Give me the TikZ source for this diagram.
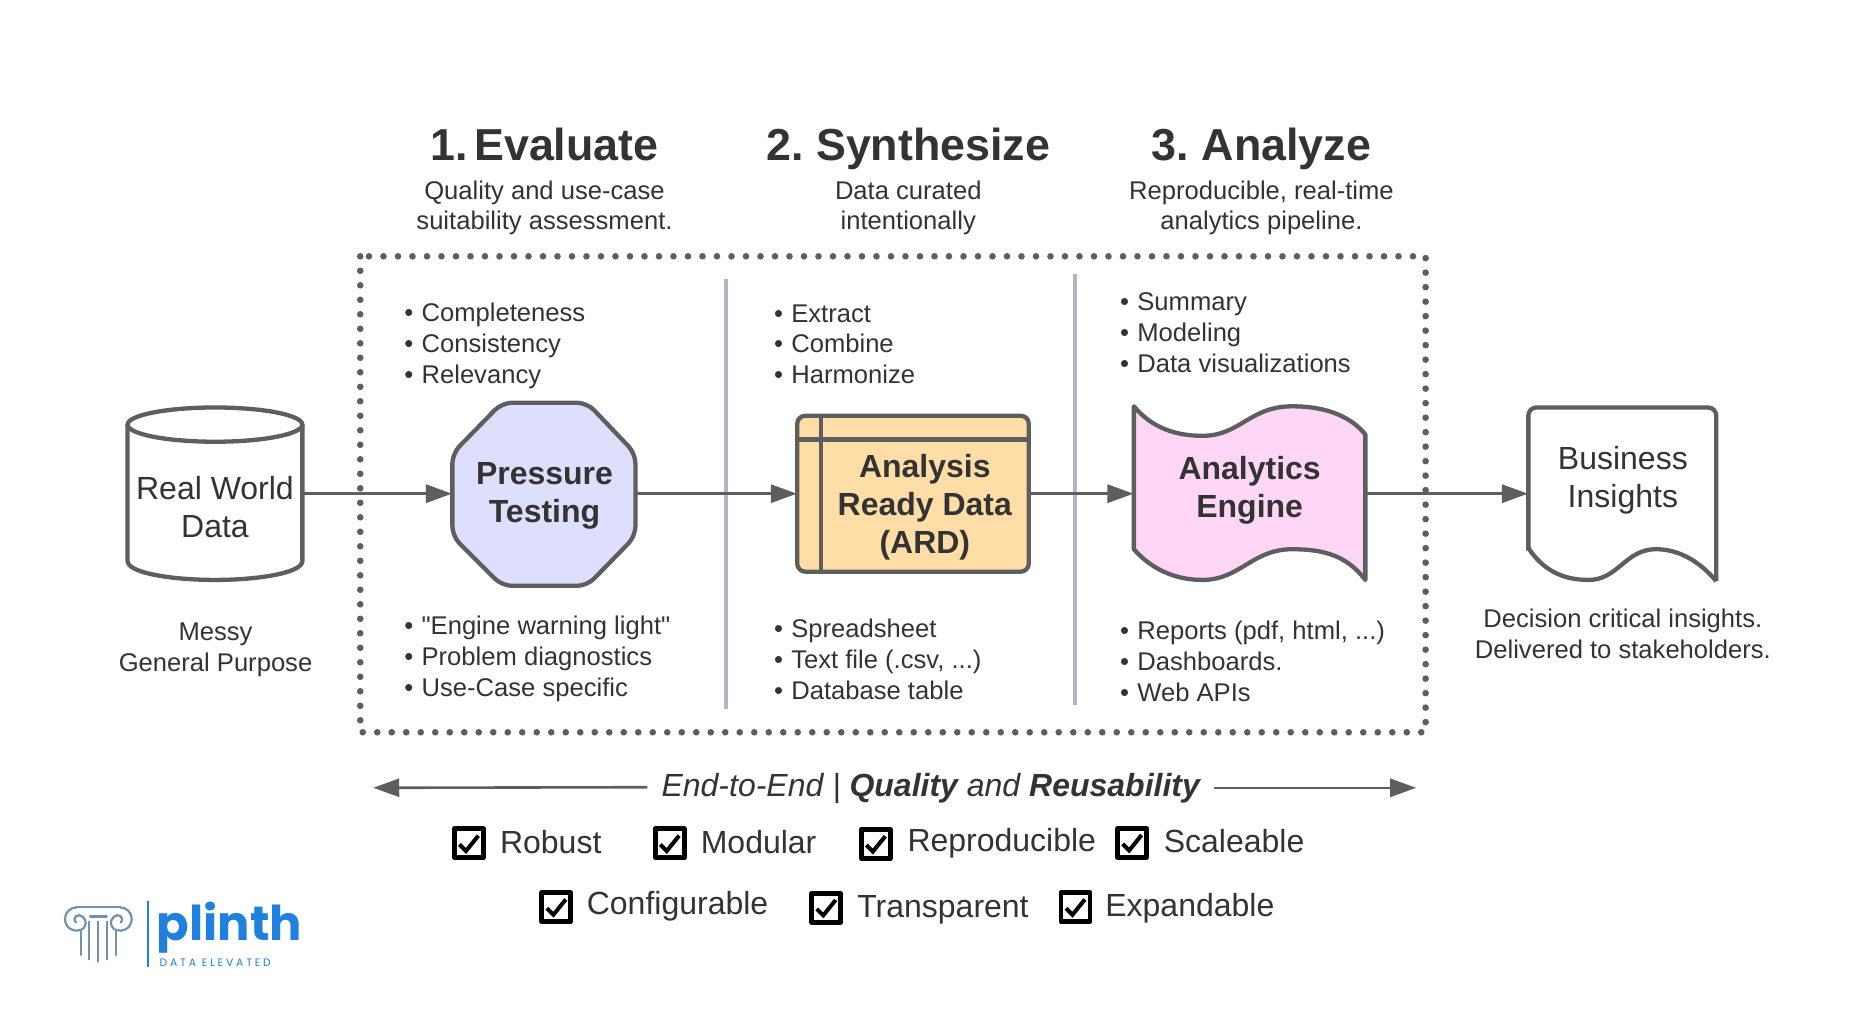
\documentclass[tikz,border=0pt]{standalone}
\usepackage{fontspec}
\setmainfont{Liberation Sans}
\newfontfamily\plainfont{Liberation Sans}
\newfontfamily\logofont{Poppins}
\usetikzlibrary{arrows.meta,calc}
\frenchspacing
\definecolor{ink}{HTML}{333333}
\definecolor{edge}{HTML}{5E5E5E}
\definecolor{rulegray}{HTML}{B2B6C4}
\definecolor{logoblue}{HTML}{2080E0}
\definecolor{logogray}{HTML}{7391AE}
\definecolor{octfill}{HTML}{DDDFFC}
\definecolor{ardfill}{HTML}{FFDDA6}
\definecolor{enfill}{HTML}{FFD6F6}
\newcommand{\ux}{0.59056pt}
\tikzset{
  txt/.style={text=ink,inner sep=0pt,align=center,font=\fontsize{12.8}{15.45}\selectfont},
  lst/.style={text=ink,inner sep=0pt,align=left,anchor=west,font=\fontsize{12.8}{15.45}\selectfont},
  ttl/.style={text=ink,inner sep=0pt,anchor=base,font=\fontsize{22.4}{27}\selectfont\bfseries},
  shp/.style={draw=edge,line width=2.15pt,line join=round},
  lbl/.style={text=ink,inner sep=0pt,align=center,font=\fontsize{16}{19}\selectfont},
  blbl/.style={lbl,font=\fontsize{16}{19}\selectfont\bfseries},
  conn/.style={draw=edge,line width=1.5pt,-{Triangle[length=13pt,width=9pt,fill=edge]}},
  vrule/.style={draw=rulegray,line width=2pt},
  chk/.style={draw=black,line width=2.4pt,line join=round,minimum width=14.5pt,minimum height=14.5pt,inner sep=0pt},
  cklbl/.style={text=ink,inner sep=0pt,anchor=base west,font=\fontsize{16}{19}\selectfont},
  logoln/.style={draw=logogray,line width=1.1pt,line cap=round},
  bounds/.style 2 args={inner sep=0pt,minimum width=#1*\ux,minimum height=#2*\ux}
}
\newcommand{\ckbox}[3]{%
  \node[chk] (#3) at (#1,#2) {};
  \draw[black,line width=2pt] ($(#3)+(-8,1)$) -- ($(#3)+(-2.5,6.5)$) -- ($(#3)+(8,-6.5)$);
}
\newcommand{\blt}{•\kern0.6pt\ }
\begin{document}
\begin{tikzpicture}[x=\ux,y=-\ux]
\useasboundingbox (0,0) rectangle (1568,873.8);
\fill[white] (0,0) rectangle (1568,873.8);
% titles
\node[ttl] (t1) at (461,136) {1.\hspace{-3pt} Evaluate};
\node[ttl] (t2) at (769,136) {2. Synthesize};
\node[ttl] (t3) at (1068,136) {3. Analyze};
\node[txt] (s1) at (461,176) {Quality and use-case\\suitability assessment.};
\node[txt] (s2) at (769,176) {Data curated\\intentionally};
\node[txt] (s3) at (1068,176) {Reproducible, real-time\\analytics pipeline.};

% frame
\draw[edge,line width=3.3pt,line cap=round,dash pattern=on 0pt off 7.25pt] (305,217) rectangle (1207,620);
\draw[vrule] (615,236) -- (615,600);
\draw[vrule] (910,232) -- (910,597);

% lists
\node[lst] (l1) at (342,293) {\blt Completeness\\\blt Consistency\\\blt Relevancy};
\node[lst] (l2) at (342,558) {\blt {\plainfont"}Engine warning light{\plainfont"}\\\blt Problem diagnostics\\\blt Use-Case specific};
\node[lst] (l3) at (655,291.5) {\blt Extract\\\blt Combine\\\blt Harmonize};
\node[lst] (l4) at (655,558.5) {\blt Spreadsheet\\\blt Text file (.csv, ...)\\\blt Database table};
\node[lst] (l5) at (948,282) {\blt Summary\\\blt Modeling\\\blt Data visualizations};
\node[lst] (l6) at (948,560) {\blt Reports (pdf, html, ...)\\\blt Dashboards.\\\blt Web APIs};
\node[txt] (c1) at (182.5,550) {Messy\\General Purpose};
\node[txt] (c2) at (1374,537) {Decision critical insights.\\Delivered to stakeholders.};

% cylinder
\draw[shp] (108,359) -- (108,475) .. controls (108,485) and (145,491) .. (182,491) .. controls (219,491) and (256,485) .. (256,475) -- (256,359);
\draw[shp] (182,359.5) ellipse [x radius=74,y radius=14.5];
\node[bounds={148}{146}] (rw) at (182,418) {};
\node[lbl] (rwt) at (182,429) {Real World\\Data};

% octagon
\draw[shp,fill=octfill,rounded corners=5pt] (425,341) -- (497,341) -- (538,384) -- (538,454) -- (497,496) -- (425,496) -- (383,454) -- (383,384) -- cycle;
\node[bounds={155}{155}] (pt) at (460.5,418) {};
\node[blbl] (ptt) at (461,419.5) {Pressure\\Testing};

% ARD
\draw[shp,fill=ardfill,rounded corners=4pt] (675,352) rectangle (871,484);
\draw[shp] (675,372) -- (871,372);
\draw[shp] (695,352) -- (695,484);
\node[bounds={196}{132}] (ard) at (773,418) {};
\node[blbl] (ardt) at (783,429.5) {Analysis\\Ready Data\\(ARD)};

% engine
\draw[shp,fill=enfill] (960,344) .. controls (975,362) and (995,369) .. (1018,369) .. controls (1050,369) and (1058,344) .. (1094,344) .. controls (1125,344) and (1145,354) .. (1156,368) -- (1156,491) .. controls (1140,470) and (1120,465) .. (1094,465) .. controls (1060,465) and (1050,491) .. (1018,491) .. controls (995,491) and (975,482) .. (960,465) -- cycle;
\node[bounds={196}{146}] (en) at (1058,418) {};
\node[blbl] (ent) at (1058,415.5) {Analytics\\Engine};

% document
\draw[shp,rounded corners=4pt] (1294,466) -- (1294,345) -- (1453,345) -- (1453,492);
\draw[shp] (1453,492) .. controls (1438,474) and (1420,465) .. (1402,465) .. controls (1376,465) and (1370,491) .. (1345,491) .. controls (1322,491) and (1306,482) .. (1294,464);
\node[bounds={159}{146}] (bi) at (1373.5,418) {};
\node[lbl] (bit) at (1374,406.5) {Business\\Insights};

% connectors
\draw[conn] (rw.east) -- (pt.west);
\draw[conn] (pt.east) -- (ard.west);
\draw[conn] (ard.east) -- (en.west);
\draw[conn] (en.east) -- (bi.west);

% end-to-end
\node[text=ink,inner sep=0pt,anchor=base,font=\fontsize{16}{20}\selectfont\itshape] (e2e) at (788,674) {End-to-End | \textbf{Quality} and \textbf{Reusability}};
\coordinate (al) at (316,667);
\coordinate (ar) at (1199,667);
\coordinate (ael) at (548,666.5);
\coordinate (aer) at (1028,667);
\draw[conn,line width=1.3pt] (ael) -- (al);
\draw[conn,line width=1.3pt] (aer) -- (ar);

% check boxes
\ckbox{397}{714}{b1}\node[cklbl] (k1) at (423,723) {Robust};
\ckbox{567}{714}{b2}\node[cklbl] (k2) at (593,723) {Modular};
\ckbox{741.5}{714.5}{b3}\node[cklbl] (k3) at (768,721) {Reproducible};
\ckbox{958.5}{713.5}{b4}\node[cklbl] (k4) at (985,722) {Scaleable};
\ckbox{471}{768}{b5}\node[cklbl] (k5) at (496.5,774) {Configurable};
\ckbox{699.5}{768.5}{b6}\node[cklbl] (k6) at (725.5,777) {Transparent};
\ckbox{910.5}{768}{b7}\node[cklbl] (k7) at (935.5,776) {Expandable};

% logo
\node[inner sep=0pt,text=logoblue,font=\logofont\fontsize{24}{24}\selectfont\bfseries,anchor=base west] (lg) at (132.5,796) {plinth};
\node[inner sep=0pt,text=logoblue,font=\logofont\fontsize{5.4}{6}\selectfont,anchor=base west] (lg2) at (134.9,818.5) {D\kern1.4pt A\kern1.4pt T\kern1.4pt A\ \ E\kern1.4pt L\kern1.4pt E\kern1.4pt V\kern1.4pt A\kern1.4pt T\kern1.4pt E\kern1.4pt D};
\draw[logoblue,line width=1.1pt] (125,762.6) -- (125,819);
\draw[logoln] (68.3,788.8) -- (68.3,808.6) (75.6,780.3) -- (75.6,812.2) (83.2,780.3) -- (83.2,814.2) (90.9,780.3) -- (90.9,812.2) (98.2,788.8) -- (98.2,808.6);
\draw[logoln] (76.2,776) -- (90.3,776);
\draw[logoln] (64.9,768.2) -- (101.6,768.2);
\draw[logoln] (64.9,768.2) arc[start angle=270,delta angle=-200,radius=9.9] arc[start angle=70,delta angle=-150,radius=6.5] arc[start angle=-80,delta angle=-150,radius=3.5];
\draw[logoln] (101.6,768.2) arc[start angle=270,delta angle=200,radius=9.9] arc[start angle=110,delta angle=150,radius=6.5] arc[start angle=260,delta angle=150,radius=3.5];
\end{tikzpicture}
\end{document}
